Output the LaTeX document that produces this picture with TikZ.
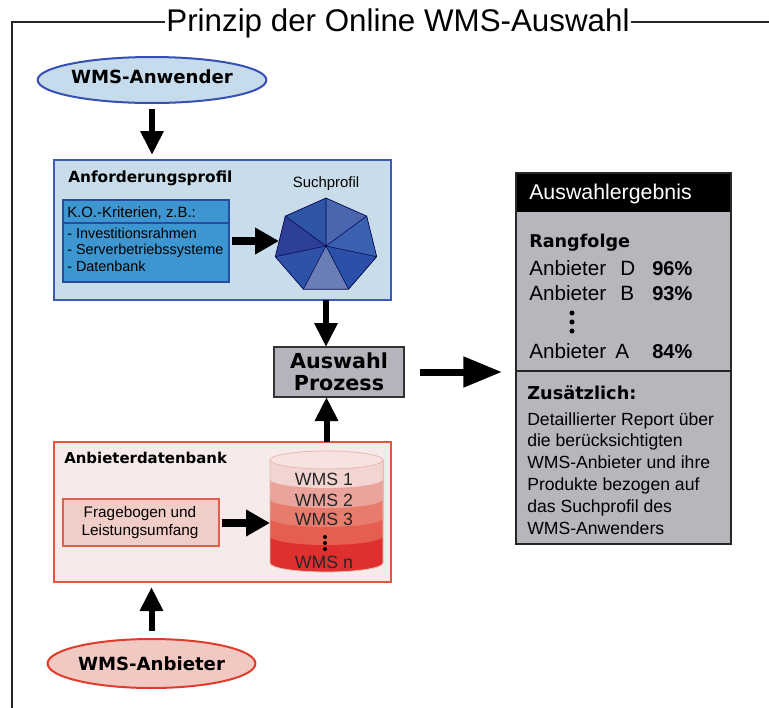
\documentclass[tikz,border=0pt]{standalone}
\usepackage{fontspec}
\setmainfont{Liberation Sans}
\newfontfamily\vfont{DejaVu Sans}
\usetikzlibrary{arrows.meta,fit,shapes.geometric}
\newcommand\fsz[2]{\fontsize{#1}{#2}\selectfont}
\definecolor{anwfill}{HTML}{C6DBEB}
\definecolor{anwdraw}{HTML}{3650B4}
\definecolor{anffill}{HTML}{C8DCEA}
\definecolor{anfdraw}{HTML}{3C5AB8}
\definecolor{kofill}{HTML}{3E96D0}
\definecolor{kodraw}{HTML}{2A4AA0}
\definecolor{ausfill}{HTML}{B4B4BC}
\definecolor{ergfill}{HTML}{B6B6BC}
\definecolor{adbfill}{HTML}{F6EAEA}
\definecolor{adbdraw}{HTML}{E4573E}
\definecolor{frgfill}{HTML}{F1CDC8}
\definecolor{frgdraw}{HTML}{E0604A}
\definecolor{anbfill}{HTML}{F2C9C2}
\definecolor{anbdraw}{HTML}{E03C2C}
\definecolor{hA}{HTML}{2F55A5}
\definecolor{hB}{HTML}{2E3F98}
\definecolor{hC}{HTML}{2D52A8}
\definecolor{hD}{HTML}{6B7DB5}
\definecolor{hE}{HTML}{2B50A8}
\definecolor{hF}{HTML}{3A62B0}
\definecolor{hG}{HTML}{4A66AE}
\definecolor{cTop}{HTML}{F6E2DF}
\definecolor{cA}{HTML}{F2D5D0}
\definecolor{cB}{HTML}{EAA49B}
\definecolor{cC}{HTML}{E87C6C}
\definecolor{cD}{HTML}{E55E4F}
\definecolor{cE}{HTML}{DF3030}
\definecolor{cEdge}{HTML}{E9B9B1}
\begin{document}
\begin{tikzpicture}[x=0.75pt,y=-0.75pt,
  bx/.style={inner sep=0pt,outer sep=0pt,line width=1.5pt},
  lbl/.style={inner sep=0pt,anchor=base west},
  ctr/.style={inner sep=0pt,anchor=base},
  arr/.style={line width=4.5pt,-{Triangle[length=18pt,width=16.5pt]}},
  arrK/.style={line width=6pt,-{Triangle[length=18pt,width=19pt]}},
  arrR/.style={line width=5.25pt,-{Triangle[length=29pt,width=22pt]}},
  oval/.style={ellipse,line width=1.5pt,inner sep=0pt,font=\vfont\bfseries\fsz{13.6}{16}}]
\useasboundingbox (0,0) rectangle (769,708);

% frame and title
\node[inner sep=1pt,anchor=base,font=\fsz{23.5}{28}] (title) at (398,31) {Prinzip der Online WMS-Auswahl};
\coordinate (ftl) at (12,22);
\coordinate (fbl) at (12,708);
\coordinate (ftr) at (769,22);
\draw[line width=1.5pt,black!85] (fbl) -- (ftl) -- (title.west |- ftl);
\draw[line width=1.5pt,black!85] (title.east |- ftr) -- (ftr);

% WMS-Anwender
\node[oval,draw=anwdraw,fill=anwfill,minimum width=144.75pt,minimum height=34.5pt,text depth=4.5pt] (anw) at (152,80) {WMS-Anwender};

% Anforderungsprofil
\node[fit={(54,160) (391,300)},bx,draw=anfdraw,fill=anffill] (anf) {};
\node[lbl,font=\vfont\bfseries\fsz{11.5}{14}] (anft) at (68,182) {Anforderungsprofil};
\node[fit={(63,200) (229,282)},bx,line width=1.2pt,draw=kodraw,fill=kofill] (ko) {};
\coordinate (kosep) at (0,223);
\draw[kodraw,line width=1.2pt] (ko.west |- kosep) -- (ko.east |- kosep);
\node[lbl,font=\fsz{11.2}{13}] (kot) at (67,217) {K.O.-Kriterien, z.B.:};
\node[lbl,font=\fsz{10.8}{13}] (ko1) at (67,238) {- Investitionsrahmen};
\node[lbl,font=\fsz{10.8}{13}] (ko2) at (67,254) {- Serverbetriebssysteme};
\node[lbl,font=\fsz{10.8}{13}] (ko3) at (67,271) {- Datenbank};
\node[ctr,font=\fsz{11.2}{13}] (sp) at (326,187) {Suchprofil};

% heptagon
\coordinate (hc) at (326,246);
\coordinate (h1) at (326,198);
\coordinate (h2) at (285.3,216.1);
\coordinate (h3) at (275.3,256.7);
\coordinate (h4) at (303.4,289.2);
\coordinate (h5) at (348.6,289.2);
\coordinate (h6) at (376.7,256.7);
\coordinate (h7) at (366.7,216.1);
\fill[hA] (hc) -- (h1) -- (h2) -- cycle;
\fill[hB] (hc) -- (h2) -- (h3) -- cycle;
\fill[hC] (hc) -- (h3) -- (h4) -- cycle;
\fill[hD] (hc) -- (h4) -- (h5) -- cycle;
\fill[hE] (hc) -- (h5) -- (h6) -- cycle;
\fill[hF] (hc) -- (h6) -- (h7) -- cycle;
\fill[hG] (hc) -- (h7) -- (h1) -- cycle;
\draw[line width=0.5pt,black!70!blue,line join=round] (h1) -- (h2) -- (h3) -- (h4) -- (h5) -- (h6) -- (h7) -- cycle;
\draw[line width=0.4pt,black!70!blue] (hc) -- (h1) (hc) -- (h2) (hc) -- (h3) (hc) -- (h4) (hc) -- (h5) (hc) -- (h6) (hc) -- (h7);
\coordinate (hl) at (279,241);
\draw[arrK,shorten <=2.25pt] (ko.east |- hl) -- (hl);

% arrow Anwender -> Anforderungsprofil
\draw[arr,shorten <=3.75pt,shorten >=3.75pt] (anw.south) -- (anw.south |- anf.north);

% Auswahl Prozess
\node[fit={(274,347) (404,397)},bx,draw=black!80,fill=ausfill] (aus) {};
\node[align=center,inner sep=0pt,font=\vfont\bfseries\fsz{15.5}{16.5}] (aust) at (aus.center) {Auswahl\\Prozess};
\draw[arr] (anf.south -| hc) -- (aus.north -| hc);

% Auswahlergebnis
\node[fit={(516,173) (731,544)},bx,draw=black!85,fill=ergfill] (erg) {};
\node[fit={(516,173) (731,212)},bx,fill=black] (ergh) {};
\draw[line width=1.5pt,black!85] (erg.north west) rectangle (erg.south east);
\coordinate (ergsep) at (0,371);
\draw[line width=1.5pt,black!85] (erg.west |- ergsep) -- (erg.east |- ergsep);
\node[lbl,text=white,font=\fsz{16}{19}] (ergt) at (529,199) {Auswahlergebnis};
\node[lbl,font=\vfont\bfseries\fsz{13.2}{16}] (rang) at (529,247) {Rangfolge};
\node[lbl,font=\fsz{15.5}{18}] (rD) at (529,275) {Anbieter};
\node[lbl,font=\fsz{15.5}{18}] (rDl) at (620,275) {D};
\node[lbl,font=\bfseries\fsz{15}{18}] (rDp) at (652,275) {96\%};
\node[lbl,font=\fsz{15.5}{18}] (rB) at (529,300) {Anbieter};
\node[lbl,font=\fsz{15.5}{18}] (rBl) at (620,300) {B};
\node[lbl,font=\bfseries\fsz{15}{18}] (rBp) at (652,300) {93\%};
\fill (572,313) circle[radius=1.9pt];
\fill (572,322) circle[radius=1.9pt];
\fill (572,331) circle[radius=1.9pt];
\node[lbl,font=\fsz{15.5}{18}] (rA) at (529,358) {Anbieter};
\node[lbl,font=\fsz{15.5}{18}] (rAl) at (615,358) {A};
\node[lbl,font=\bfseries\fsz{15}{18}] (rAp) at (652,358) {84\%};
\node[lbl,font=\vfont\bfseries\fsz{13.3}{16}] (zus) at (527,399) {Zusätzlich:};
\node[lbl,font=\fsz{13.2}{16}] (z1) at (527,425) {Detaillierter Report über};
\node[lbl,font=\fsz{13.2}{16}] (z2) at (527,446) {die berücksichtigten};
\node[lbl,font=\fsz{13.2}{16}] (z3) at (527,468) {WMS-Anbieter und ihre};
\node[lbl,font=\fsz{13.2}{16}] (z4) at (527,490) {Produkte bezogen auf};
\node[lbl,font=\fsz{13.2}{16}] (z5) at (527,512) {das Suchprofil des};
\node[lbl,font=\fsz{13.2}{16}] (z6) at (527,534) {WMS-Anwenders};
\draw[arrR,shorten <=12pt,shorten >=10.5pt] (aus.east) -- (erg.west |- aus.east);

% Anbieterdatenbank
\node[fit={(54,442) (391,582)},bx,draw=adbdraw,fill=adbfill] (adb) {};
\node[lbl,font=\vfont\bfseries\fsz{11.2}{14}] (adbt) at (64,463) {Anbieterdatenbank};
\node[fit={(63,499) (219,546)},bx,draw=frgdraw,fill=frgfill] (frg) {};
\node[ctr,font=\fsz{11.5}{14}] (frg1) at (140,517) {Fragebogen und};
\node[ctr,font=\fsz{11.5}{14}] (frg2) at (140,535) {Leistungsumfang};

% cylinder
\coordinate (cyl) at (326.5,460);
\fill[cE] (270,460) -- (270,563) arc[start angle=180,end angle=360,x radius=42.375pt,y radius=6.75pt] -- (383,460) -- cycle;
\fill[cD] (270,460) -- (270,536) arc[start angle=180,end angle=360,x radius=42.375pt,y radius=6.75pt] -- (383,460) -- cycle;
\fill[cC] (270,460) -- (270,518) arc[start angle=180,end angle=360,x radius=42.375pt,y radius=6.75pt] -- (383,460) -- cycle;
\fill[cB] (270,460) -- (270,499) arc[start angle=180,end angle=360,x radius=42.375pt,y radius=6.75pt] -- (383,460) -- cycle;
\fill[cA] (270,460) -- (270,479) arc[start angle=180,end angle=360,x radius=42.375pt,y radius=6.75pt] -- (383,460) -- cycle;
\draw[cEdge,line width=0.6pt] (270,460) -- (270,563) arc[start angle=180,end angle=360,x radius=42.375pt,y radius=6.75pt] -- (383,460);
\filldraw[fill=cTop,draw=cEdge,line width=0.6pt] (cyl) ellipse[x radius=42.375pt,y radius=6.75pt];
\node[ctr,font=\fsz{13.3}{16},text=black!85] (w1) at (324,485) {WMS 1};
\node[ctr,font=\fsz{13.3}{16},text=black!85] (w2) at (324,506) {WMS 2};
\node[ctr,font=\fsz{13.3}{16},text=black!85] (w3) at (324,525) {WMS 3};
\fill (325,537) circle[radius=1.5pt];
\fill (325,543) circle[radius=1.5pt];
\fill (325,549) circle[radius=1.5pt];
\node[ctr,font=\fsz{13.3}{16},text=black!85] (wn) at (324,568) {WMS n};
\coordinate (cylL) at (270,523);
\draw[arrK,shorten <=2.25pt] (frg.east |- cylL) -- (cylL);
\draw[arr] (adb.north -| cyl) -- (aus.south -| cyl);

% WMS-Anbieter
\node[oval,draw=anbdraw,fill=anbfill,minimum width=143.25pt,minimum height=36.75pt] (anb) at (151.5,663.5) {WMS-Anbieter};
\draw[arr,shorten <=5.25pt,shorten >=3.75pt] (anb.north) -- (anb.north |- adb.south);
\end{tikzpicture}
\end{document}
